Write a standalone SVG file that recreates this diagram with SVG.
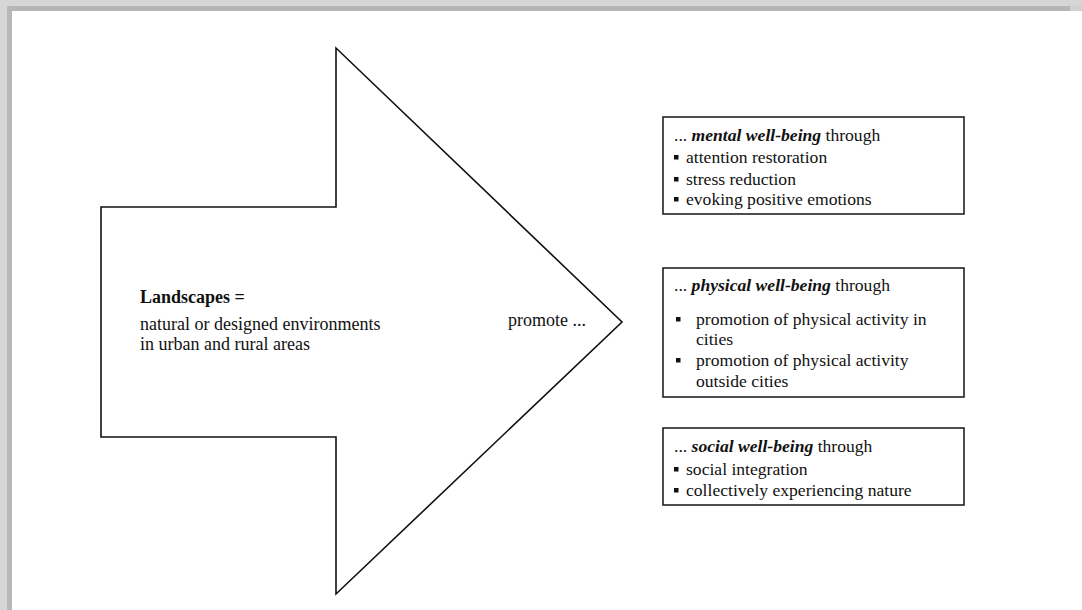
<svg xmlns="http://www.w3.org/2000/svg" width="1082" height="610" viewBox="0 0 1082 610">
<style>
.t{font-family:"Liberation Serif","Times New Roman",serif;font-size:17.6px;fill:#111}
.l{font-family:"Liberation Serif","Times New Roman",serif;font-size:18px;fill:#111}
.b{font-weight:bold}
.bi{font-weight:bold;font-style:italic}
.box{fill:#fff;stroke:#222;stroke-width:1.6}
.sq{fill:#111}
</style>
<defs>
<rect id="sq" width="4.5" height="4.5" class="sq"/>
</defs>
<rect x="0" y="0" width="1082" height="610" fill="#fff"/>
<rect x="0" y="0" width="1082" height="6" fill="#d6d6d6"/>
<rect x="12" y="6" width="1058" height="5" fill="#b5b5b5"/>
<rect x="1070" y="6" width="12" height="5" fill="#d0d0d0"/>
<rect x="0" y="6" width="7" height="604" fill="#d6d6d6"/>
<rect x="7" y="6" width="5" height="604" fill="#b8b8b8"/>
<g id="connectors"></g>
<g id="arrow">
<polygon points="101,207 336,207 336,48 622,322 336,594 336,437 101,437" fill="#fff" stroke="#111" stroke-width="1.6" stroke-linejoin="miter"/>
<text class="l b" x="140" y="303">Landscapes =</text>
<text class="l" x="140" y="330">natural or designed environments</text>
<text class="l" x="140" y="350">in urban and rural areas</text>
<text class="l" x="508" y="326">promote ...</text>
</g>
<g id="mental">
<rect class="box" x="663" y="117" width="301" height="97"/>
<text class="t" x="674" y="141">... <tspan class="bi">mental well-being</tspan> through</text>
<use href="#sq" x="674" y="155"/>
<text class="t" x="686" y="163">attention restoration</text>
<use href="#sq" x="674" y="177"/>
<text class="t" x="686" y="185">stress reduction</text>
<use href="#sq" x="674" y="197"/>
<text class="t" x="686" y="205">evoking positive emotions</text>
</g>
<g id="physical">
<rect class="box" x="663" y="268" width="301" height="129"/>
<text class="t" x="674" y="291">... <tspan class="bi">physical well-being</tspan> through</text>
<use href="#sq" x="676" y="317"/>
<text class="t" x="696" y="325">promotion of physical activity in</text>
<text class="t" x="696" y="345">cities</text>
<use href="#sq" x="676" y="358"/>
<text class="t" x="696" y="366">promotion of physical activity</text>
<text class="t" x="696" y="387">outside cities</text>
</g>
<g id="social">
<rect class="box" x="663" y="428" width="301" height="77"/>
<text class="t" x="674" y="452">... <tspan class="bi">social well-being</tspan> through</text>
<use href="#sq" x="674" y="467"/>
<text class="t" x="686" y="475">social integration</text>
<use href="#sq" x="674" y="488"/>
<text class="t" x="686" y="496">collectively experiencing nature</text>
</g>
</svg>
